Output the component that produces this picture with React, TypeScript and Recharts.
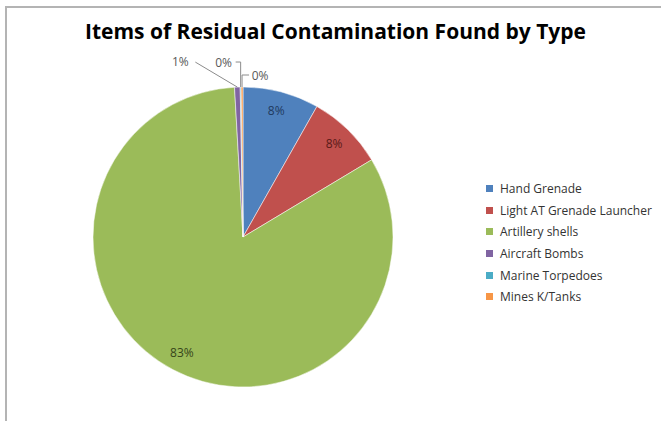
import { Cell, Pie, PieChart } from "recharts";

// item counts by contamination type
const types = [
  "Hand Grenade",
  "Light AT Grenade Launcher",
  "Artillery shells",
  "Aircraft Bombs",
  "Marine Torpedoes",
  "Mines K/Tanks",
];
const counts = [82, 82, 827, 6, 1, 2];
const colors = ["#4F81BD", "#C0504D", "#9BBB59", "#8064A2", "#4BACC6", "#F79646"];
// darker tone used for the labels sitting on a slice
const labelTones = ["#1F3A5F", "#5A1A18", "#36451A", "#595959", "#595959", "#595959"];

const data = types.map((name, i) => ({ name, value: counts[i] }));

const RADIAN = Math.PI / 180;
const FONT = "'Open Sans', 'Noto Sans', sans-serif";

// small slices get their label outside with a leader line
const outside: Record<number, { dx: number; dy: number; kind: "slant" | "left" | "right" }> = {
  3: { dx: -57, dy: -26, kind: "slant" },
  4: { dx: -17, dy: -25, kind: "left" },
  5: { dx: 18, dy: -12, kind: "right" },
};

const renderLabel = (props: any) => {
  const { cx, cy, midAngle, outerRadius, percent, index } = props;
  const text = `${Math.round(percent * 100)}%`;
  const cos = Math.cos(-midAngle * RADIAN);
  const sin = Math.sin(-midAngle * RADIAN);
  const o = outside[index];
  if (!o) {
    const r = outerRadius * 0.87;
    return (
      <text
        x={cx + r * cos}
        y={cy + r * sin}
        fill={labelTones[index]}
        fontSize={12}
        fontFamily={FONT}
        textAnchor="middle"
        dominantBaseline="central"
      >
        {text}
      </text>
    );
  }
  const ex = cx + outerRadius * cos;
  const ey = cy + outerRadius * sin;
  const tx = ex + o.dx;
  const ty = ey + o.dy;
  let path = "";
  if (o.kind === "slant") path = `M${ex},${ey} L${tx + 15},${ty + 1}`;
  if (o.kind === "left") path = `M${ex},${ey} L${ex},${ty} L${tx + 12},${ty}`;
  if (o.kind === "right") path = `M${ex},${ey} L${ex},${ty} L${tx - 11},${ty}`;
  return (
    <g>
      <path d={path} stroke="#8c8c8c" strokeWidth={1} fill="none" />
      <text
        x={tx}
        y={ty}
        fill="#595959"
        fontSize={12}
        fontFamily={FONT}
        textAnchor="middle"
        dominantBaseline="central"
      >
        {text}
      </text>
    </g>
  );
};

// legend sits beside the pie, outside the chart's own layout
const ChartLegend = () => (
  <ul style={{ position: "absolute", left: 486, top: 178, listStyle: "none", margin: 0, padding: 0 }}>
    {types.map((t, i) => (
      <li
        key={t}
        style={{
          display: "flex",
          alignItems: "center",
          height: 21.6,
          fontSize: 12,
          fontFamily: FONT,
          color: "#333333",
          whiteSpace: "nowrap",
        }}
      >
        <span
          style={{
            display: "inline-block",
            width: 7,
            height: 7,
            background: colors[i],
            marginRight: 7,
          }}
        />
        {t}
      </li>
    ))}
  </ul>
);

export default function App() {
  return (
    <div style={{ position: "absolute", left: 0, top: 0, width: 661, height: 421, background: "#fff", overflow: "hidden" }}>
      {/* chart frame */}
      <div
        style={{
          position: "absolute",
          left: 5,
          top: 6,
          width: 660,
          height: 420,
          borderLeft: "2px solid #b4b4b4",
          borderTop: "2px solid #b4b4b4",
        }}
      />
      <div
        style={{
          position: "absolute",
          left: 0,
          top: 17,
          width: 671,
          textAlign: "center",
          fontFamily: FONT,
          fontWeight: 700,
          fontSize: 21,
          color: "#000",
        }}
      >
        Items of Residual Contamination Found by Type
      </div>
      <PieChart
        width={661}
        height={421}
        margin={{ top: 0, right: 0, bottom: 0, left: 0 }}
        style={{ position: "absolute", left: 0, top: 0 }}
      >
        <Pie
          data={data}
          dataKey="value"
          nameKey="name"
          cx={243}
          cy={237}
          outerRadius={150}
          startAngle={90}
          endAngle={-270}
          stroke="#ffffff"
          strokeWidth={0.5}
          label={renderLabel}
          labelLine={false}
          isAnimationActive={false}
        >
          {data.map((d, i) => (
            <Cell key={d.name} fill={colors[i]} />
          ))}
        </Pie>
      </PieChart>
      <ChartLegend />
    </div>
  );
}
